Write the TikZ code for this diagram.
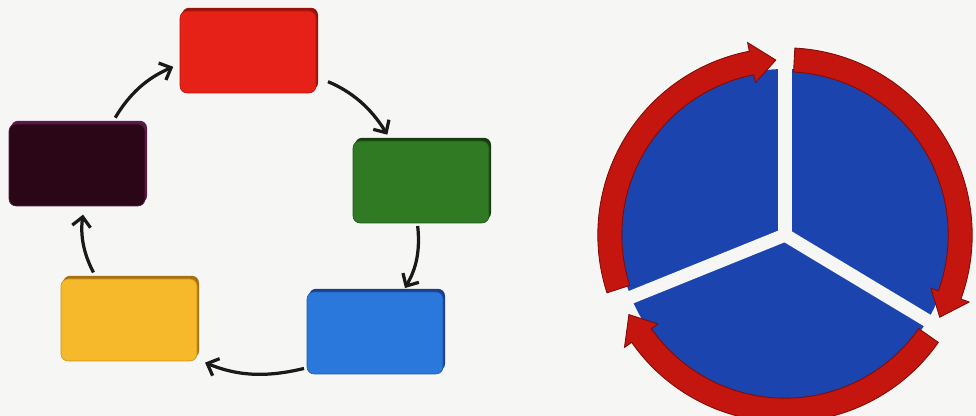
\documentclass[tikz,border=0pt]{standalone}
\usetikzlibrary{arrows.meta, calc, positioning, shadows}
\definecolor{paper}{HTML}{F6F6F4}
\definecolor{redface}{HTML}{E62117}
\definecolor{redrim}{HTML}{9A1208}
\definecolor{grnface}{HTML}{2F7A22}
\definecolor{grnrim}{HTML}{163D0E}
\definecolor{bluface}{HTML}{2A78DC}
\definecolor{blurim}{HTML}{1B3F8C}
\definecolor{ylwface}{HTML}{F6B92C}
\definecolor{ylwrim}{HTML}{A8700E}
\definecolor{purface}{HTML}{2B0616}
\definecolor{purrim}{HTML}{5A1A45}
\definecolor{pieblue}{HTML}{1C44AE}
\definecolor{ringred}{HTML}{C4160E}
\definecolor{ringdk}{HTML}{7E0B07}

\begin{document}
\begin{tikzpicture}[
    >={Straight Barb[length=2.4mm, width=4.6mm]},
    tile/.style={rounded corners=5pt, minimum width=3.4cm,
                 minimum height=2.05cm, inner sep=0pt},
    cyc/.style={->, line width=2.3pt, black!90, bend left=18},
    gapline/.style={line width=0.33cm, paper, line cap=round},
  ]

  % Background
  \useasboundingbox (0,0) rectangle (24.4,10.4);
  \clip (0,0) rectangle (24.4,10.4);
  \fill[paper] (0,0) rectangle (24.4,10.4);

  % Nodes
  \node[tile, fill=redface, draw=redrim!70!redface,
        drop shadow={shadow xshift=0.05cm, shadow yshift=0.08cm,
                     fill=redrim, opacity=1}] (red) at (6.2,9.1) {};
  \node[tile, fill=grnface, draw=grnrim!60!grnface,
        drop shadow={shadow xshift=0.05cm, shadow yshift=0.08cm,
                     fill=grnrim, opacity=1}] (green) at (10.525,5.85) {};
  \node[tile, fill=bluface, draw=blurim!60!bluface,
        drop shadow={shadow xshift=0.05cm, shadow yshift=0.08cm,
                     fill=blurim, opacity=1}] (blue) at (9.375,2.075) {};
  \node[tile, fill=ylwface, draw=ylwrim!60!ylwface,
        drop shadow={shadow xshift=0.05cm, shadow yshift=0.08cm,
                     fill=ylwrim, opacity=1}] (yellow) at (3.225,2.4) {};
  \node[tile, fill=purface, draw=purrim,
        drop shadow={shadow xshift=0.05cm, shadow yshift=0.08cm,
                     fill=purrim, opacity=1}] (purple) at (1.925,6.275) {};

  % Cycle arrows
  \draw[cyc, shorten <=5pt, shorten >=5pt] (purple.50) to (red.190);
  \draw[cyc, shorten <=9pt, shorten >=5pt] (red.-20) to (green.126);
  \draw[cyc, shorten <=2pt, shorten >=3pt] (green.-95) to (blue.56);
  \draw[cyc, shorten <=2pt, shorten >=6pt] (blue.207) to (yellow.-30);
  \draw[cyc, shorten <=5pt, shorten >=6pt] (yellow.128) to (purple.-80);

  % Pie with ring arrows
  \begin{scope}[shift={(19.625,4.525)}]
    \fill[pieblue] (0,0) circle (4.15);
    \foreach \from/\tip in {198/93, 87/-28, 325/207}{
      \filldraw[fill=ringred, draw=ringdk, line width=0.6pt]
        (\from:4.08) arc[start angle=\from, end angle=\tip+8, radius=4.08]
        -- (\tip+8:3.88) -- (\tip:4.38) -- (\tip+8:4.9)
        -- (\tip+8:4.68) arc[start angle=\tip+8, end angle=\from, radius=4.68]
        -- cycle;
    }
    % Gaps
    \foreach \a in {90, -31, 202}
      \draw[gapline] (0,0) -- (\a:4.95);
  \end{scope}

\end{tikzpicture}
\end{document}
